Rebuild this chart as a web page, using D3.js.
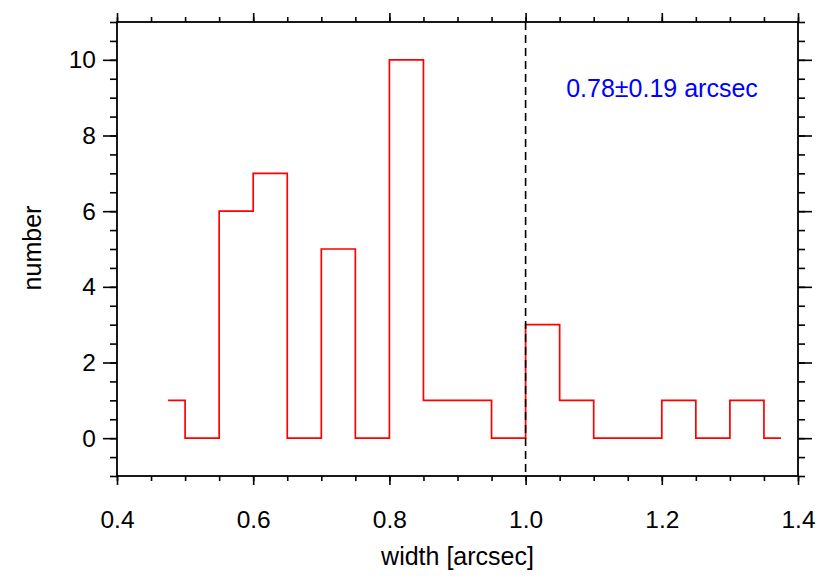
<!DOCTYPE html>
<html><head><meta charset="utf-8">
<script src="https://cdn.jsdelivr.net/npm/d3@7"></script>
<style>body{margin:0;background:#fff}svg{display:block}text{font-family:"Liberation Sans",Arial,sans-serif}</style>
</head><body><svg id="c" width="830" height="581"></svg>
<script>
const binCenters = [0.475,0.525,0.575,0.625,0.675,0.725,0.775,0.825,0.875,0.925,0.975,1.025,1.075,1.125,1.175,1.225,1.275,1.325,1.375];
const counts     = [1,0,6,7,0,5,0,10,1,1,0,3,1,0,0,1,0,1,0];
const xTicks = [0.4,0.6,0.8,1.0,1.2,1.4];
const yTicks = [0,2,4,6,8,10];
const meanLine = 1.0;
const annotation = "0.78\u00b10.19 arcsec";

const svg = d3.select("#c");
const L=117, R=798, T=22, B=476;
const x = d3.scaleLinear().domain([0.4,1.4]).range([L,R]);
const y = d3.scaleLinear().domain([-1,11]).range([B,T]);
const fs = 24.5;

const xMinor = d3.range(0.4,1.4001,0.05).map(v=>+v.toFixed(2));
const yMinor = d3.range(-1,11.001,0.5).map(v=>+v.toFixed(1));

function styleAxis(g){
  g.select(".domain").remove();
  g.selectAll("line").attr("stroke","#000").attr("stroke-width",1.6);
  g.selectAll("text").attr("font-size",fs).attr("fill","#000");
}
// bottom
svg.append("g").attr("transform",`translate(0,${B})`)
  .call(d3.axisBottom(x).tickValues(xMinor).tickSize(5).tickFormat(""))
  .call(styleAxis);
svg.append("g").attr("transform",`translate(0,${B})`)
  .call(d3.axisBottom(x).tickValues(xTicks).tickSize(9).tickPadding(26).tickFormat(d3.format(".1f")))
  .call(styleAxis);
// top
svg.append("g").attr("transform",`translate(0,${T})`)
  .call(d3.axisTop(x).tickValues(xMinor).tickSize(5).tickFormat("")).call(styleAxis);
svg.append("g").attr("transform",`translate(0,${T})`)
  .call(d3.axisTop(x).tickValues(xTicks).tickSize(9).tickFormat("")).call(styleAxis);
// left
svg.append("g").attr("transform",`translate(${L},0)`)
  .call(d3.axisLeft(y).tickValues(yMinor).tickSize(7).tickFormat("")).call(styleAxis);
svg.append("g").attr("transform",`translate(${L},0)`)
  .call(d3.axisLeft(y).tickValues(yTicks).tickSize(14).tickPadding(7).tickFormat(d3.format("d"))).call(styleAxis);
// right
svg.append("g").attr("transform",`translate(${R},0)`)
  .call(d3.axisRight(y).tickValues(yMinor).tickSize(7).tickFormat("")).call(styleAxis);
svg.append("g").attr("transform",`translate(${R},0)`)
  .call(d3.axisRight(y).tickValues(yTicks).tickSize(14).tickFormat("")).call(styleAxis);

// frame
svg.append("rect").attr("x",L).attr("y",T).attr("width",R-L).attr("height",B-T)
  .attr("fill","none").attr("stroke","#000").attr("stroke-width",1.8);

// histogram
const line = d3.line().x((d,i)=>x(binCenters[i])).y(d=>y(d)).curve(d3.curveStep);
svg.append("path").datum(counts).attr("d",line)
  .attr("fill","none").attr("stroke","#ff0000").attr("stroke-width",1.7);

// dashed line
svg.append("line").attr("x1",x(meanLine)).attr("x2",x(meanLine)).attr("y1",T).attr("y2",B)
  .attr("stroke","#000").attr("stroke-width",1.6).attr("stroke-dasharray","8,5");

// annotation
svg.append("text").attr("x",662).attr("y",97).attr("text-anchor","middle")
  .attr("font-size",fs+0.5).attr("fill","#0000ff").text(annotation);

// axis labels
svg.append("text").attr("x",(L+R)/2).attr("y",565).attr("text-anchor","middle")
  .attr("font-size",fs+0.5).attr("fill","#000").text("width [arcsec]");
svg.append("text").attr("transform",`translate(41,248) rotate(-90)`).attr("text-anchor","middle")
  .attr("font-size",fs+0.5).attr("fill","#000").text("number");
</script></body></html>
